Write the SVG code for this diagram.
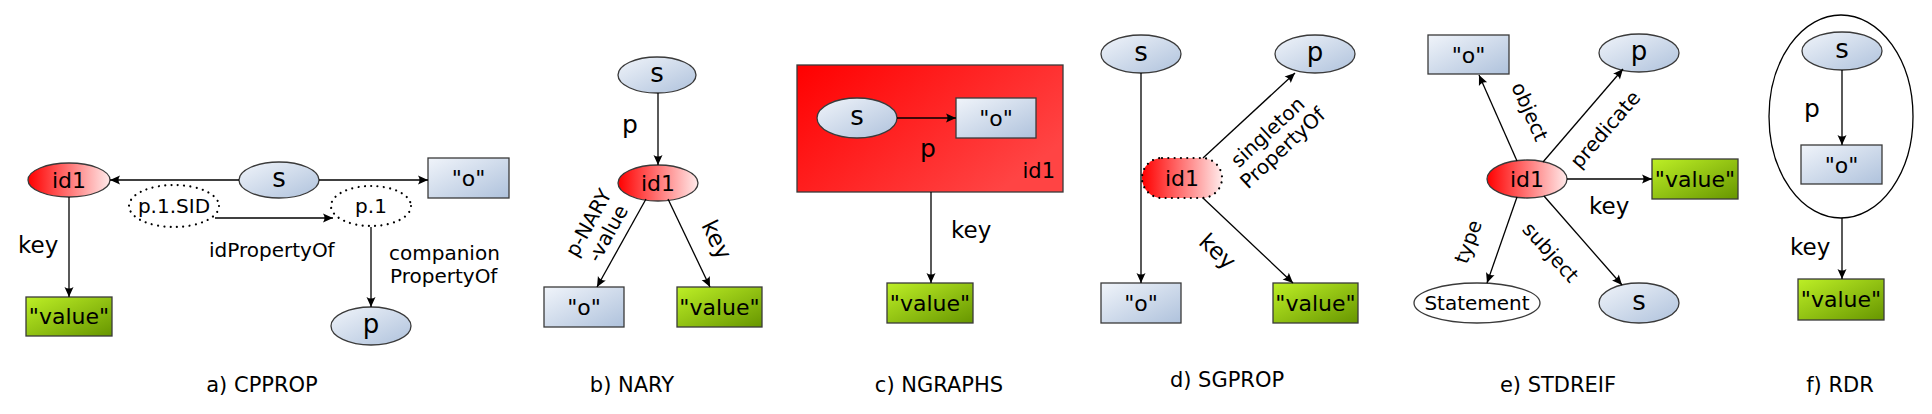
<svg xmlns="http://www.w3.org/2000/svg" width="1932" height="414" viewBox="0 0 1932 414">
<defs>
<linearGradient id="gb" x1="0" y1="0" x2="1" y2="1"><stop offset="0" stop-color="#f0f4fa"/><stop offset="1" stop-color="#afc2dc"/></linearGradient>
<linearGradient id="gg" x1="0" y1="0" x2="1" y2="1"><stop offset="0" stop-color="#bdef26"/><stop offset="1" stop-color="#679600"/></linearGradient>
<linearGradient id="gr" x1="0" y1="0.5" x2="1" y2="0.5"><stop offset="0" stop-color="#ff0000"/><stop offset="1" stop-color="#ffeaea"/></linearGradient>
<linearGradient id="grr" x1="0" y1="0" x2="1" y2="0.6"><stop offset="0" stop-color="#ff0000"/><stop offset="1" stop-color="#ff4444"/></linearGradient>
<marker id="ah" markerUnits="userSpaceOnUse" viewBox="-11 -6 12 12" refX="0" refY="0" markerWidth="12" markerHeight="12" orient="auto">
<path d="M0,0 L-10,-4.5 Q-7,0 -10,4.5 Z" fill="#000"/>
</marker>
</defs>
<style>
.n{stroke:#3a3a3a;stroke-width:1.3}
.b{fill:url(#gb)}
.g{fill:url(#gg)}
.r{fill:url(#gr)}
.w{fill:#fff}
.dot{fill:#fff;stroke:#000;stroke-width:2.2;stroke-dasharray:0.01 6.3;stroke-linecap:round}
.e{stroke:#000;stroke-width:1.3;fill:none;marker-end:url(#ah)}
text{font-family:"DejaVu Sans","Liberation Sans",sans-serif;fill:#000}
.t22{font-size:22px;text-anchor:middle}
.t26{font-size:26px;text-anchor:middle}
.l20{font-size:20px}
.l23{font-size:23px}
.l25{font-size:25px}
.cap{font-size:21px;text-anchor:middle}
</style>
<rect width="1932" height="414" fill="#fff"/>

<!-- a) CPPROP -->
<g id="a_id1"><ellipse class="n r" cx="69" cy="180" rx="41" ry="17"/><text class="t22" x="69" y="187.5">id1</text></g>
<g id="a_s"><ellipse class="n b" cx="279" cy="180" rx="40" ry="18"/><text class="t26" x="279" y="187">s</text></g>
<g id="a_o"><rect class="n b" x="428" y="158" width="81" height="40"/><text class="t22" x="468.5" y="186">"o"</text></g>
<g id="a_p1sid"><ellipse class="dot" cx="174" cy="206" rx="45" ry="21"/><text class="l20" x="174" y="213" text-anchor="middle">p.1.SID</text></g>
<g id="a_p1"><ellipse class="dot" cx="371" cy="206" rx="40" ry="20"/><text class="l20" x="371" y="213" text-anchor="middle">p.1</text></g>
<g id="a_p"><ellipse class="n b" cx="371" cy="326" rx="40" ry="19"/><text class="t26" x="371" y="333">p</text></g>
<g id="a_value"><rect class="n g" x="26" y="297" width="86" height="39"/><text class="t22" x="69" y="324">"value"</text></g>

<!-- b) NARY -->
<g id="b_s"><ellipse class="n b" cx="657" cy="75" rx="39" ry="18"/><text class="t26" x="657" y="82">s</text></g>
<g id="b_id1"><ellipse class="n r" cx="658" cy="183" rx="40" ry="18"/><text class="t22" x="658" y="190.5">id1</text></g>
<g id="b_o"><rect class="n b" x="544" y="287" width="80" height="40"/><text class="t22" x="584" y="315">"o"</text></g>
<g id="b_value"><rect class="n g" x="677" y="287" width="85" height="40"/><text class="t22" x="719.5" y="315">"value"</text></g>

<!-- c) NGRAPHS -->
<g id="c_graph"><rect x="797" y="65" width="266" height="127" fill="url(#grr)" stroke="#3a3a3a" stroke-width="1.3"/><text x="1055" y="178" font-size="21" text-anchor="end">id1</text></g>
<g id="c_s"><ellipse class="n b" cx="857" cy="118" rx="40" ry="20"/><text class="t26" x="857" y="125">s</text></g>
<g id="c_o"><rect class="n b" x="956" y="98" width="80" height="40"/><text class="t22" x="996" y="126">"o"</text></g>
<g id="c_value"><rect class="n g" x="887" y="283" width="86" height="40"/><text class="t22" x="930" y="311">"value"</text></g>

<!-- d) SGPROP -->
<g id="d_s"><ellipse class="n b" cx="1141" cy="54" rx="40" ry="19"/><text class="t26" x="1141" y="61">s</text></g>
<g id="d_p"><ellipse class="n b" cx="1315" cy="54" rx="40" ry="19"/><text class="t26" x="1315" y="61">p</text></g>
<g id="d_id1"><rect x="1142" y="158" width="80" height="40" rx="20" ry="20" fill="url(#gr)" stroke="#000" stroke-width="2.2" stroke-dasharray="0.01 6.3" stroke-linecap="round"/><text class="t22" x="1182" y="185.5">id1</text></g>
<g id="d_o"><rect class="n b" x="1101" y="283" width="80" height="40"/><text class="t22" x="1141" y="311">"o"</text></g>
<g id="d_value"><rect class="n g" x="1273" y="283" width="85" height="40"/><text class="t22" x="1315.5" y="311">"value"</text></g>

<!-- e) STDREIF -->
<g id="e_o"><rect class="n b" x="1428" y="35" width="81" height="39"/><text class="t22" x="1468.5" y="62.5">"o"</text></g>
<g id="e_p"><ellipse class="n b" cx="1639" cy="53" rx="40" ry="19"/><text class="t26" x="1639" y="60">p</text></g>
<g id="e_id1"><ellipse class="n r" cx="1527" cy="179" rx="40" ry="19"/><text class="t22" x="1527" y="186.5">id1</text></g>
<g id="e_value"><rect class="n g" x="1652" y="159" width="86" height="40"/><text class="t22" x="1695" y="187">"value"</text></g>
<g id="e_statement"><ellipse class="n w" cx="1477" cy="303" rx="63" ry="20"/><text class="l20" x="1477" y="310" text-anchor="middle">Statement</text></g>
<g id="e_s"><ellipse class="n b" cx="1639" cy="303" rx="40" ry="20"/><text class="t26" x="1639" y="310">s</text></g>

<!-- f) RDR -->
<g id="f_triple"><ellipse cx="1841" cy="116.5" rx="72" ry="101.5" fill="none" stroke="#000" stroke-width="1.3"/></g>
<g id="f_s"><ellipse class="n b" cx="1842" cy="51" rx="40" ry="19"/><text class="t26" x="1842" y="58">s</text></g>
<g id="f_o"><rect class="n b" x="1801" y="145" width="81" height="39"/><text class="t22" x="1841.5" y="172.5">"o"</text></g>
<g id="f_value"><rect class="n g" x="1798" y="279" width="86" height="41"/><text class="t22" x="1841" y="307">"value"</text></g>

<!-- connectors -->
<g id="connectors">
<path class="e" d="M239,180 L110,180"/>
<path class="e" d="M319,180 L428,180"/>
<path class="e" d="M215,218 L333,218"/>
<path class="e" d="M371,227 L371,307"/>
<path class="e" d="M69,197 L69,297"/>

<path class="e" d="M658,93 L658,165"/>
<path class="e" d="M646,199 L597,287"/>
<path class="e" d="M668,199 L710,287"/>

<path class="e" d="M897,118 L956,118"/>
<path class="e" d="M931,192 L931,283"/>

<path class="e" d="M1141,73 L1141,283"/>
<path class="e" d="M1203,158 L1295,73"/>
<path class="e" d="M1203,198 L1293,283"/>

<path class="e" d="M1517,161 L1479,75"/>
<path class="e" d="M1543,162 L1623,69"/>
<path class="e" d="M1567,179 L1652,179"/>
<path class="e" d="M1517,197 L1487,283"/>
<path class="e" d="M1544,196 L1622,285"/>

<path class="e" d="M1842,70 L1842,145"/>
<path class="e" d="M1842,218 L1842,279"/>
</g>

<!-- connector labels -->
<g id="labels">
<text class="l23" x="18" y="253">key</text>
<text class="l20" x="209" y="257">idPropertyOf</text>
<text class="l20" x="389" y="260">companion</text>
<text class="l20" x="390" y="283">PropertyOf</text>

<text class="l25" x="622" y="133">p</text>
<g transform="translate(598,228) rotate(-61)"><text class="l20" x="0" y="-4" text-anchor="middle">p-NARY</text><text class="l20" x="0" y="18" text-anchor="middle">-value</text></g>
<g transform="translate(716,240) rotate(64)"><text class="l23" x="0" y="7" text-anchor="middle">key</text></g>

<text class="l25" x="920" y="157">p</text>
<text class="l23" x="951" y="238">key</text>

<g transform="translate(1275,140) rotate(-43)"><text class="l20" x="0" y="-4" text-anchor="middle">singleton</text><text class="l20" x="0" y="18" text-anchor="middle">PropertyOf</text></g>
<g transform="translate(1217,252) rotate(43)"><text class="l23" x="0" y="7" text-anchor="middle">key</text></g>

<g transform="translate(1529,112) rotate(66)"><text class="l20" x="0" y="6" text-anchor="middle">object</text></g>
<g transform="translate(1606,130) rotate(-49)"><text class="l20" x="0" y="6" text-anchor="middle">predicate</text></g>
<text class="l23" x="1589" y="214">key</text>
<g transform="translate(1469,242) rotate(-70)"><text class="l20" x="0" y="6" text-anchor="middle">type</text></g>
<g transform="translate(1550,253) rotate(48)"><text class="l20" x="0" y="6" text-anchor="middle">subject</text></g>

<text class="l25" x="1804" y="117">p</text>
<text class="l23" x="1790" y="255">key</text>
</g>

<!-- captions -->
<g id="captions">
<text class="cap" x="262" y="392">a) CPPROP</text>
<text class="cap" x="632" y="392">b) NARY</text>
<text class="cap" x="939" y="392">c) NGRAPHS</text>
<text class="cap" x="1227" y="387">d) SGPROP</text>
<text class="cap" x="1558" y="392">e) STDREIF</text>
<text class="cap" x="1840" y="392">f) RDR</text>
</g>
</svg>
